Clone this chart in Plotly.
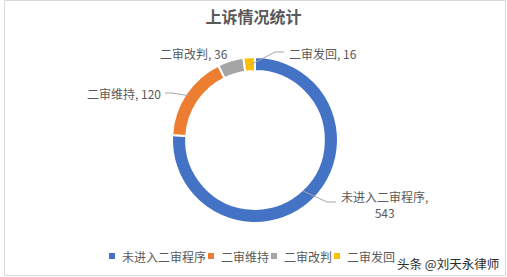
import math
import plotly.graph_objects as go

# ---- data ----
categories = ["未进入二审程序", "二审维持", "二审改判", "二审发回"]
values = [543, 120, 36, 16]
colors = ["#4472C4", "#ED7D31", "#A5A5A5", "#FFC000"]
title_text = "上诉情况统计"
watermark = "头条 @刘天永律师"

W, H = 507, 277
CX, CY, R = 255, 140, 83
FONT = "Noto Sans CJK SC"
TXT = "#595959"


def px(x):
    return x / W


def py(y):
    return 1 - y / H


fig = go.Figure()
fig.add_trace(go.Pie(
    labels=categories, values=values, sort=False, direction="clockwise",
    rotation=0, hole=0.83, textinfo="none", hoverinfo="label+value",
    marker=dict(colors=colors, line=dict(color="white", width=2)),
    domain=dict(x=[px(CX - R), px(CX + R)], y=[py(CY + R), py(CY - R)]),
    showlegend=False,
))

# slice mid angles (clockwise from 12 o'clock)
total = sum(values)
mids = []
cum = 0
for v in values:
    mids.append((cum + v / 2) / total * 2 * math.pi)
    cum += v


def ring_point(i, r):
    a = mids[i]
    return CX + r * math.sin(a), CY - r * math.cos(a)


annotations = []
shapes = []
LINE = dict(color="#A6A6A6", width=1)

# label specs: (index, text, x, y, xanchor, attach radius, elbow, line end)
label_specs = [
    (0, f"{categories[0]},<br>{values[0]}", 384, 204, "center", 70, (327, 202), (336, 202)),
    (1, f"{categories[1]}, {values[1]}", 163, 93, "right", 80, (172, 93), (165, 93)),
    (2, f"{categories[2]}, {values[2]}", 194, 53, "center", None, None, None),
    (3, f"{categories[3]}, {values[3]}", 287, 53, "left", 75, (275, 52), (284, 52)),
]
for i, text, x, y, xa, r, elbow, end in label_specs:
    annotations.append(dict(
        x=px(x), y=py(y), xref="paper", yref="paper", text=text, showarrow=False,
        xanchor=xa, yanchor="middle", align="center",
        font=dict(family=FONT, size=12, color=TXT),
    ))
    if r is not None:
        sx, sy = ring_point(i, r)
        shapes.append(dict(type="path", xref="paper", yref="paper",
                           path=f"M{px(sx)},{py(sy)} L{px(elbow[0])},{py(elbow[1])} L{px(end[0])},{py(end[1])}",
                           line=LINE))

# custom legend
lx = 112
ly = 256
for name, col in zip(categories, colors):
    shapes.append(dict(type="rect", xref="paper", yref="paper",
                       x0=px(lx - 3), x1=px(lx + 3), y0=py(ly + 3), y1=py(ly - 3),
                       fillcolor=col, line=dict(width=0)))
    annotations.append(dict(x=px(lx + 8), y=py(ly), xref="paper", yref="paper",
                            text=name, showarrow=False, xanchor="left", yanchor="middle",
                            font=dict(family=FONT, size=12, color=TXT)))
    lx += 8 + 12 * len(name) + 7

# watermark
annotations.append(dict(x=px(501), y=py(263), xref="paper", yref="paper", text=watermark,
                        showarrow=False, xanchor="right", yanchor="middle",
                        font=dict(family=FONT, size=12.5, color="#2b2b2b")))

# frame
shapes.append(dict(type="rect", xref="paper", yref="paper",
                   x0=px(4.5), x1=px(505.5), y0=py(275.5), y1=py(0.5),
                   line=dict(color="#D9D9D9", width=1)))

fig.update_layout(
    width=W, height=H, margin=dict(l=0, r=0, t=0, b=0),
    paper_bgcolor="white", plot_bgcolor="white",
    title=dict(text=f"<b>{title_text}</b>", x=0.5, xanchor="center", y=py(17), yanchor="middle",
               font=dict(family=FONT, size=16, color=TXT)),
    annotations=annotations, shapes=shapes,
)

fig.write_html("out.html")
